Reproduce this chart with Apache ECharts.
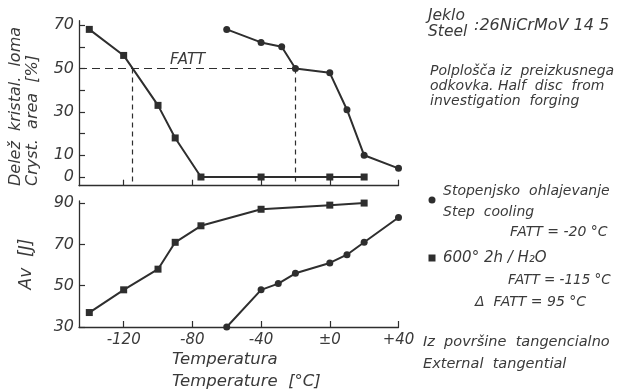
<!DOCTYPE html>
<html><head><meta charset="utf-8">
<script src="https://cdn.jsdelivr.net/npm/echarts@6/dist/echarts.min.js"></script>
<style>html,body{margin:0;padding:0;background:#fff}#c{width:621px;height:390px}</style>
</head><body><div id="c"></div>
<script>
// ---- data ----
const xTicks = [-120, -80, -40, 0, 40];
const topTicks = [0, 10, 20, 30, 40, 50, 60, 70];
const topLabels = [0, 10, 30, 50, 70];
const botTicks = [30, 50, 70, 90];

// 600° 2h/H2O (squares)
const sqTempTop = [-140, -120, -100, -90, -75, -40, 0, 20];
const sqCryst   = [68, 56, 33, 18, 0, 0, 0, 0];
const sqTempBot = [-140, -120, -100, -90, -75, -40, 0, 20];
const sqAv      = [37, 48, 58, 71, 79, 87, 89, 90];

// Step cooling (circles)
const ciTempTop = [-60, -40, -28, -20, 0, 10, 20, 40];
const ciCryst   = [68, 62, 60, 50, 48, 31, 10, 4];
const ciTempBot = [-60, -40, -30, -20, 0, 10, 20, 40];
const ciAv      = [30, 48, 51, 56, 61, 65, 71, 83];

const fattLevel = 50;
const fattStep = -20;
const fattQuench = -115;

const xMin = -146, xMax = 40, topMin = -4, topMax = 72, botMin = 30, botMax = 91;

const ink = '#2e2e2e';
const tink = '#3a3a3a';
const FONT = 'DejaVu Sans';
const zip = (a, b) => a.map((v, i) => [v, b[i]]);

const chart = echarts.init(document.getElementById('c'), null, {renderer: 'canvas'});

const axisLine = {show: true, onZero: false, lineStyle: {color: ink, width: 1.3}};
const tickLine = {color: ink, width: 1.2};
const lblBase = {color: tink, fontFamily: FONT, fontStyle: 'italic', fontSize: 15};

function f(sz) { return 'italic ' + sz + 'px "' + FONT + '"'; }
function txt(x, y, s, sz, opt) {
  return {type: 'text', x: x, y: y, silent: true,
    style: Object.assign({text: s, fill: tink, font: f(sz || 14),
      textVerticalAlign: 'middle'}, opt || {})};
}
function vtxt(x, y, s, sz, align) {
  const t = txt(x, y, s, sz, {textAlign: align || 'left'});
  t.rotation = Math.PI / 2;
  return t;
}

const option = {
  backgroundColor: '#fff',
  animation: false,
  grid: [
    {left: 79, top: 20.7, width: 319.5, height: 165, containLabel: false},
    {left: 79, top: 201, width: 319.5, height: 126, containLabel: false}
  ],
  xAxis: [
    {type: 'value', gridIndex: 0, min: xMin, max: xMax, axisLine: axisLine,
     axisTick: {show: true, inside: true, length: 6, customValues: xTicks, lineStyle: tickLine},
     axisLabel: {show: false}, splitLine: {show: false}},
    {type: 'value', gridIndex: 1, min: xMin, max: xMax, axisLine: axisLine,
     axisTick: {show: true, inside: true, length: 6, customValues: xTicks, lineStyle: tickLine},
     axisLabel: Object.assign({show: true, margin: 6, customValues: xTicks,
       formatter: v => v === 0 ? '±0' : (v > 0 ? '+' + v : String(v))}, lblBase),
     splitLine: {show: false}}
  ],
  yAxis: [
    {type: 'value', gridIndex: 0, min: topMin, max: topMax, axisLine: axisLine,
     axisTick: {show: true, inside: true, length: 6, customValues: topTicks, lineStyle: tickLine},
     axisLabel: Object.assign({show: true, margin: 5, customValues: topLabels}, lblBase, {fontSize: 16}),
     splitLine: {show: false}},
    {type: 'value', gridIndex: 1, min: botMin, max: botMax, axisLine: axisLine,
     axisTick: {show: true, inside: true, length: 6, customValues: botTicks, lineStyle: tickLine},
     axisLabel: Object.assign({show: true, margin: 5, customValues: botTicks}, lblBase, {fontSize: 16}),
     splitLine: {show: false}}
  ],
  series: [
    {type: 'line', xAxisIndex: 0, yAxisIndex: 0, data: zip(sqTempTop, sqCryst),
     symbol: 'rect', symbolSize: 7, lineStyle: {color: ink, width: 2}, itemStyle: {color: ink},
     markLine: {silent: true, symbol: 'none', label: {show: false},
       lineStyle: {color: ink, width: 1.2, type: [8, 5]},
       data: [
         [{coord: [xMin, fattLevel]}, {coord: [fattStep, fattLevel]}],
         [{coord: [fattQuench, fattLevel], lineStyle: {type: [5, 4]}}, {coord: [fattQuench, topMin]}],
         [{coord: [fattStep, fattLevel], lineStyle: {type: [5, 4]}}, {coord: [fattStep, topMin]}]
       ]}},
    {type: 'line', xAxisIndex: 0, yAxisIndex: 0, data: zip(ciTempTop, ciCryst),
     symbol: 'circle', symbolSize: 7, lineStyle: {color: ink, width: 2}, itemStyle: {color: ink}},
    {type: 'line', xAxisIndex: 1, yAxisIndex: 1, data: zip(sqTempBot, sqAv),
     symbol: 'rect', symbolSize: 7, lineStyle: {color: ink, width: 2}, itemStyle: {color: ink}},
    {type: 'line', xAxisIndex: 1, yAxisIndex: 1, data: zip(ciTempBot, ciAv),
     symbol: 'circle', symbolSize: 7, lineStyle: {color: ink, width: 2}, itemStyle: {color: ink}}
  ],
  graphic: [
    txt(170, 60, 'FATT', 15),
    // y axis names
    vtxt(16, 186, 'Delež  kristal.  loma', 16),
    vtxt(33, 186, 'Cryst.  area  [%]', 16),
    vtxt(27, 264, 'Av  [J]', 17, 'center'),
    // x axis names
    txt(172, 360, 'Temperatura', 16.5),
    txt(172, 382, 'Temperature  [°C]', 16.5),
    // right side notes
    txt(428, 16, 'Jeklo', 15.5),
    txt(428, 32, 'Steel', 15.5),
    txt(474, 26, ':26NiCrMoV 14 5', 16),
    txt(430, 71, 'Polplošča iz  preizkusnega', 14),
    txt(430, 86, 'odkovka. Half  disc  from', 14),
    txt(430, 101, 'investigation  forging', 14),
    {type: 'circle', silent: true, shape: {cx: 432, cy: 200, r: 3.5}, style: {fill: ink}},
    txt(443, 191, 'Stopenjsko  ohlajevanje', 14),
    txt(443, 212, 'Step  cooling', 14),
    txt(510, 232, 'FATT = -20 °C', 14),
    {type: 'rect', silent: true, shape: {x: 428.5, y: 254.5, width: 7, height: 7}, style: {fill: ink}},
    txt(443, 258, '600° 2h / H₂O', 15),
    txt(508, 280, 'FATT = -115 °C', 13.5),
    txt(475, 302, 'Δ  FATT = 95 °C', 14),
    txt(423, 342, 'Iz  površine  tangencialno', 14.5),
    txt(423, 364, 'External  tangential', 14.5)
  ]
};
chart.setOption(option);
</script>
</body></html>
